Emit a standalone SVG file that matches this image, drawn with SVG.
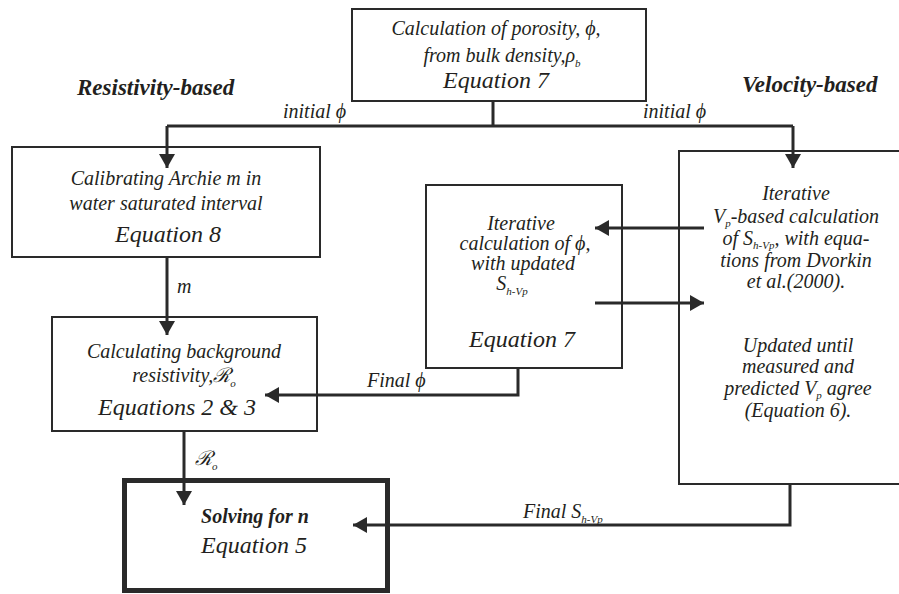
<svg xmlns="http://www.w3.org/2000/svg" width="899" height="594" viewBox="0 0 899 594">
<style>
.box{fill:#fff;stroke:#2a2a2a;stroke-width:2}
.thick{fill:#fff;stroke:#2a2a2a;stroke-width:5}
.c{fill:none;stroke:#2a2a2a;stroke-width:3}
text{font-family:'Liberation Serif','Times New Roman',serif}
.t{font-style:italic;font-size:20px;fill:#231f20;text-anchor:middle}
.l{text-anchor:start}
.eq{font-size:24px}
.b{font-weight:bold}
.s{font-size:11px}
.h{font-style:italic;font-weight:bold;font-size:23px;fill:#231f20}
</style>
<defs>
<marker id="ah" viewBox="0 0 14 16" refX="14" refY="8" markerWidth="14" markerHeight="16" markerUnits="userSpaceOnUse" orient="auto">
<path d="M0 0 L14 8 L0 16 Z" fill="#2a2a2a"/>
</marker>
</defs>
<rect width="899" height="594" fill="#fff"/>

<text class="h" x="77" y="95">Resistivity-based</text>
<text class="h" x="742" y="92">Velocity-based</text>

<g id="porosity">
<rect class="box" x="352" y="9" width="294" height="92"/>
<text class="t" x="496" y="35">Calculation of porosity, ϕ,</text>
<text class="t" x="502" y="62">from bulk density,ρ<tspan class="s" dy="5">b</tspan></text>
<text class="t eq" x="496" y="88">Equation 7</text>
</g>

<g id="archie">
<rect class="box" x="12" y="147" width="308" height="110"/>
<text class="t" x="166" y="185">Calibrating Archie m in</text>
<text class="t" x="166" y="210">water saturated interval</text>
<text class="t eq" x="168" y="242">Equation 8</text>
</g>

<g id="background">
<rect class="box" x="52" y="317" width="265" height="114"/>
<text class="t" x="184" y="358">Calculating background</text>
<text class="t" x="184" y="382">resistivity,ℛ<tspan class="s" dy="5">o</tspan></text>
<text class="t eq" x="177" y="415">Equations 2 &amp; 3</text>
</g>

<g id="iterphi">
<rect class="box" x="426" y="185" width="196" height="183"/>
<text class="t" x="521" y="230">Iterative</text>
<text class="t" x="525" y="250">calculation of ϕ,</text>
<text class="t" x="523" y="270">with updated</text>
<text class="t" x="512" y="290">S<tspan class="s" dy="5">h-Vp</tspan></text>
<text class="t eq" x="522" y="347">Equation 7</text>
</g>

<g id="velocity">
<rect class="box" x="679" y="151" width="240" height="333"/>
<text class="t" x="796" y="200">Iterative</text>
<text class="t" x="796" y="223">V<tspan class="s" dy="4">p</tspan><tspan dy="-4">-based calculation</tspan></text>
<text class="t" x="796" y="245">of S<tspan class="s" dy="4">h-Vp</tspan><tspan dy="-4">, with equa-</tspan></text>
<text class="t" x="796" y="267">tions from Dvorkin</text>
<text class="t" x="796" y="288">et al.(2000).</text>
<text class="t" x="798" y="352">Updated until</text>
<text class="t" x="798" y="373">measured and</text>
<text class="t" x="798" y="395">predicted V<tspan class="s" dy="4">p</tspan><tspan dy="-4"> agree</tspan></text>
<text class="t" x="798" y="417">(Equation 6).</text>
</g>

<g id="solving">
<rect class="thick" x="124.5" y="480.5" width="263" height="110"/>
<text class="t b" x="255" y="523">Solving for n</text>
<text class="t eq" x="254" y="553">Equation 5</text>
</g>

<g id="connectors">
<path class="c" d="M493 101 V126 M167 126 H793"/>
<path class="c" d="M167 126 V168" marker-end="url(#ah)"/>
<path class="c" d="M793 126 V168" marker-end="url(#ah)"/>
<path class="c" d="M167 257 V335" marker-end="url(#ah)"/>
<path class="c" d="M184 431 V505" marker-end="url(#ah)"/>
<path class="c" d="M704 228 H595" marker-end="url(#ah)"/>
<path class="c" d="M595 303 H704" marker-end="url(#ah)"/>
<path class="c" d="M518 368 V395 H265" marker-end="url(#ah)"/>
<path class="c" d="M790 484 V525 H353" marker-end="url(#ah)"/>
<text class="t l" x="283" y="118">initial ϕ</text>
<text class="t l" x="643" y="118">initial ϕ</text>
<text class="t l" x="177" y="293">m</text>
<text class="t l" x="195" y="465">ℛ<tspan class="s" dy="5">o</tspan></text>
<text class="t l" x="367" y="387">Final ϕ</text>
<text class="t l" x="523" y="518">Final S<tspan class="s" dy="5">h-Vp</tspan></text>
</g>
</svg>
